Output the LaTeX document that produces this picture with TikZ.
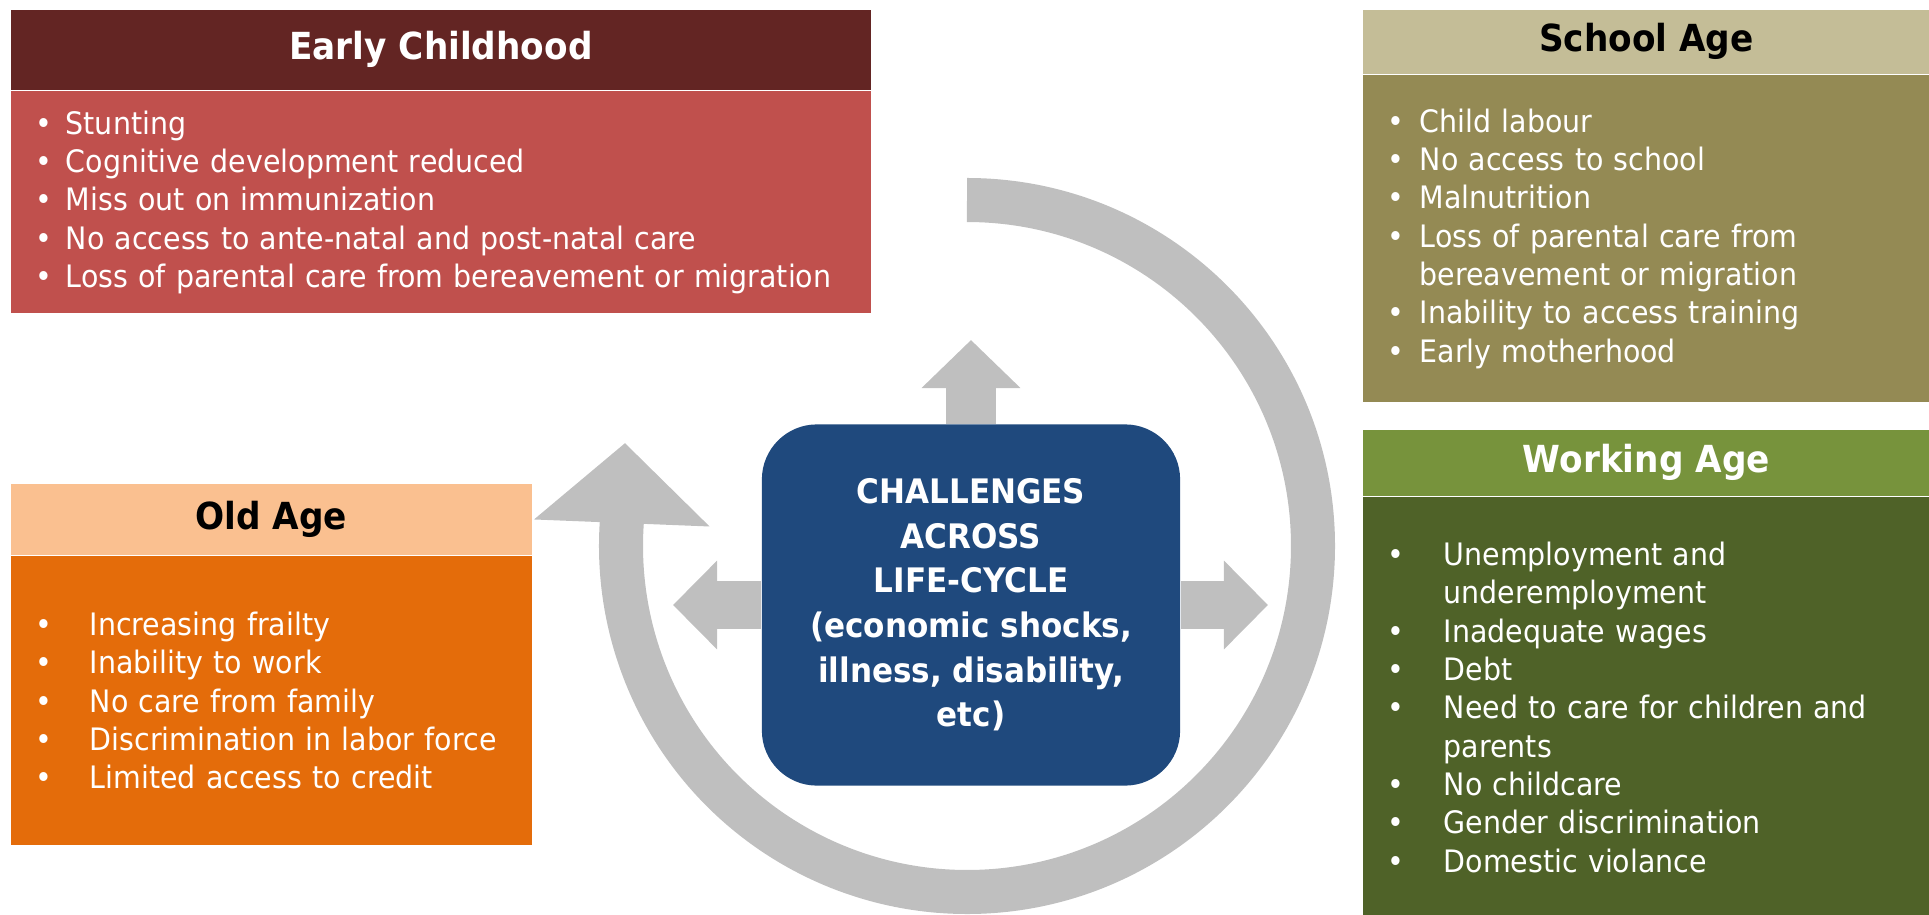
\documentclass[tikz,border=0pt]{standalone}
\usepackage{fontspec}
\setmainfont{DejaVu Sans}[FakeStretch=0.92]
\usetikzlibrary{positioning,arrows.meta}
\definecolor{ecdark}{HTML}{632523}
\definecolor{ecfill}{HTML}{C0504D}
\definecolor{sadark}{HTML}{C4BD97}
\definecolor{safill}{HTML}{948A54}
\definecolor{wadark}{HTML}{77933C}
\definecolor{wafill}{HTML}{4F6228}
\definecolor{oadark}{HTML}{FAC090}
\definecolor{oafill}{HTML}{E46C0A}
\definecolor{hubblue}{HTML}{1F497D}
\definecolor{ringgray}{HTML}{BFBFBF}
\newcommand{\bul}[1]{\makebox[#1][l]{\textbullet}}
\newcommand{\cont}[1]{\makebox[#1]{}}

\begin{document}
\begin{tikzpicture}[x=0.01cm, y=0.01cm]
\tikzset{
    head/.style= {anchor=north west, inner sep=0pt, font=\fontsize{10.6}{12}\selectfont\bfseries},
    body/.style= {inner xsep=0.25cm, inner ysep=0pt, align=left, text=white, font=\fontsize{8.8}{10.9}\selectfont},
    hub/.style= {fill=hubblue, rounded corners=0.55cm, minimum width=4.18cm, minimum height=3.61cm, text=white, align=center, font=\fontsize{9.6}{12.7}\selectfont\bfseries},
    garrow/.style= {draw=ringgray, line width=0.5cm, -{Triangle[length=0.48cm, width=0.96cm]}},
    sidearrow/.style= {draw=ringgray, line width=0.48cm, -{Triangle[length=0.44cm, width=0.86cm]}},
    ring/.style= {draw=ringgray, line width=0.44cm, -{Triangle[length=0.8cm, width=1.71cm]}},
}
\useasboundingbox (0,0) rectangle (1929,-915);

% cycle ring
\coordinate (ringtop) at (967,-200);
\coordinate (ringtip) at (625,-443);
\draw[ring] (ringtop) arc[start angle=90, end angle=-184, radius=346] -- (ringtip);

% centre box and its arrows
\node[hub] (hub) at (971,-605) {CHALLENGES\\ACROSS\\LIFE-CYCLE\\(economic shocks,\\illness, disability,\\etc)};
\coordinate (uptip) at (971,-340);
\coordinate (lefttip) at (673,-605);
\coordinate (righttip) at (1268,-605);
\draw[garrow] (hub.north) -- (uptip);
\draw[sidearrow] (hub.west) -- (lefttip);
\draw[sidearrow] (hub.east) -- (righttip);

% early childhood
\node[head, fill=ecdark, text=white, minimum width=8.6cm, minimum height=0.8cm] (echead) at (10,-9) {Early Childhood};
\node[body, fill=ecfill, text width=8.1cm, minimum height=2.22cm, below=0pt of echead] (ecbody)
    {\bul{0.3cm}Stunting\\
     \bul{0.3cm}Cognitive development reduced\\
     \bul{0.3cm}Miss out on immunization\\
     \bul{0.3cm}No access to ante-natal and post-natal care\\
     \bul{0.3cm}Loss of parental care from bereavement or migration};

% school age
\node[head, fill=sadark, text=black, minimum width=5.67cm, minimum height=0.64cm] (sahead) at (1362,-9) {School Age};
\node[body, fill=safill, text width=5.17cm, minimum height=3.27cm, below=0pt of sahead] (sabody)
    {\bul{0.32cm}Child labour\\
     \bul{0.32cm}No access to school\\
     \bul{0.32cm}Malnutrition\\
     \bul{0.32cm}Loss of parental care from\\
     \cont{0.32cm}bereavement or migration\\
     \bul{0.32cm}Inability to access training\\
     \bul{0.32cm}Early motherhood};

% working age
\node[head, fill=wadark, text=white, minimum width=5.67cm, minimum height=0.66cm] (wahead) at (1362,-429) {Working Age};
\node[body, fill=wafill, text width=5.17cm, minimum height=4.2cm, below=0pt of wahead] (wabody)
    {\bul{0.56cm}Unemployment and\\
     \cont{0.56cm}underemployment\\
     \bul{0.56cm}Inadequate wages\\
     \bul{0.56cm}Debt\\
     \bul{0.56cm}Need to care for children and\\
     \cont{0.56cm}parents\\
     \bul{0.56cm}No childcare\\
     \bul{0.56cm}Gender discrimination\\
     \bul{0.56cm}Domestic violance};

% old age
\node[head, fill=oadark, text=black, minimum width=5.21cm, minimum height=0.71cm] (oahead) at (10,-483) {Old Age};
\node[body, fill=oafill, text width=4.71cm, minimum height=2.89cm, below=0pt of oahead] (oabody)
    {\bul{0.54cm}Increasing frailty\\
     \bul{0.54cm}Inability to work\\
     \bul{0.54cm}No care from family\\
     \bul{0.54cm}Discrimination in labor force\\
     \bul{0.54cm}Limited access to credit};
\end{tikzpicture}
\end{document}
